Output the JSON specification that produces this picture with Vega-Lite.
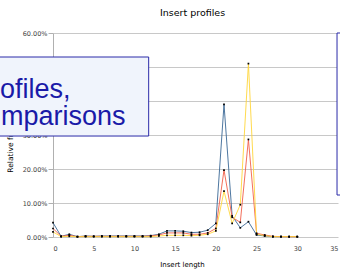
{
 "$schema": "https://vega.github.io/schema/vega-lite/v6.json",
 "width": 285,
 "height": 204,
 "autosize": {"type": "none"},
 "padding": {"left": 53, "top": 33, "right": 2, "bottom": 36},
 "config": {"font": "DejaVu Sans", "view": {"stroke": null}},
 "title": {"text": "Insert profiles", "fontSize": 9.5, "fontWeight": "normal", "color": "#000", "offset": 13, "font": "DejaVu Sans", "dx": -3},
 "resolve": {"axis": {"x": "independent", "y": "independent"}},
 "layer": [
  {
   "data": {"values": [
    {"x": 0, "A": 0.042, "B": 0.025, "C": 0.015},
    {"x": 1, "A": 0.002, "B": 0.002, "C": 0.001},
    {"x": 2, "A": 0.008, "B": 0.005, "C": 0.002},
    {"x": 3, "A": 0.001, "B": 0.001, "C": 0.001},
    {"x": 4, "A": 0.003, "B": 0.002, "C": 0.001},
    {"x": 5, "A": 0.002, "B": 0.002, "C": 0.001},
    {"x": 6, "A": 0.003, "B": 0.002, "C": 0.001},
    {"x": 7, "A": 0.003, "B": 0.002, "C": 0.001},
    {"x": 8, "A": 0.003, "B": 0.002, "C": 0.001},
    {"x": 9, "A": 0.003, "B": 0.002, "C": 0.001},
    {"x": 10, "A": 0.003, "B": 0.002, "C": 0.001},
    {"x": 11, "A": 0.003, "B": 0.002, "C": 0.001},
    {"x": 12, "A": 0.004, "B": 0.003, "C": 0.001},
    {"x": 13, "A": 0.008, "B": 0.006, "C": 0.003},
    {"x": 14, "A": 0.018, "B": 0.012, "C": 0.005},
    {"x": 15, "A": 0.018, "B": 0.012, "C": 0.005},
    {"x": 16, "A": 0.017, "B": 0.012, "C": 0.005},
    {"x": 17, "A": 0.013, "B": 0.008, "C": 0.004},
    {"x": 18, "A": 0.014, "B": 0.008, "C": 0.005},
    {"x": 19, "A": 0.02, "B": 0.012, "C": 0.008},
    {"x": 20, "A": 0.04, "B": 0.025, "C": 0.018},
    {"x": 21, "A": 0.39, "B": 0.197, "C": 0.135},
    {"x": 22, "A": 0.062, "B": 0.058, "C": 0.04},
    {"x": 23, "A": 0.027, "B": 0.043, "C": 0.095},
    {"x": 24, "A": 0.045, "B": 0.287, "C": 0.51},
    {"x": 25, "A": 0.006, "B": 0.011, "C": 0.008},
    {"x": 26, "A": 0.003, "B": 0.006, "C": 0.004},
    {"x": 27, "A": 0.001, "B": 0.002, "C": 0.001},
    {"x": 28, "A": 0.001, "B": 0.001, "C": 0.001},
    {"x": 29, "A": 0.001, "B": 0.001, "C": 0.001},
    {"x": 30, "A": 0.001, "B": 0.001, "C": 0.001}
   ]},
   "transform": [{"fold": ["A", "B", "C"], "as": ["series", "value"]}],
   "encoding": {
    "x": {"field": "x", "type": "quantitative", "scale": {"domain": [0, 35], "nice": false, "zero": false},
     "axis": {"values": [0, 5, 10, 15, 20, 25, 30, 35], "grid": false, "ticks": false, "domain": false, "labelFontSize": 6.5, "labelFont": "DejaVu Sans", "labelColor": "#444", "labelPadding": 8, "title": "Insert length", "titleFont": "DejaVu Sans", "titleFontSize": 7, "titleFontWeight": "normal", "titleColor": "#000", "titlePadding": 9, "titleX": 129}},
    "y": {"field": "value", "type": "quantitative", "scale": {"domain": [0, 0.6], "nice": false},
     "axis": {"format": ".2%", "values": [0, 0.1, 0.2, 0.3, 0.4, 0.5, 0.6], "title": "Relative frequency", "titleFont": "DejaVu Sans", "titleFontSize": 7.5, "titleFontWeight": "normal", "titleColor": "#000", "titlePadding": 8, "titleY": 104, "labelFont": "DejaVu Sans", "labelFontSize": 6.5, "labelColor": "#444", "labelPadding": 1, "gridColor": "#c8c8c8", "domainColor": "#b0b0b0", "tickColor": "#b0b0b0", "tickSize": 5}}
   },
   "layer": [
    {"mark": {"type": "line", "strokeWidth": 0.9},
     "encoding": {"color": {"field": "series", "type": "nominal", "scale": {"domain": ["A", "B", "C"], "range": ["#3a6895", "#f2604a", "#ffd63a"]}, "legend": null}}},
    {"mark": {"type": "square", "size": 3, "color": "#000", "opacity": 1, "filled": true}, "encoding": {}}
   ]
  },
  {
   "data": {"values": [{"x1": -7, "x2": 11.75, "y1": 0.5294, "y2": 0.297}]},
   "mark": {"type": "rect", "fill": "#f0f4fc", "stroke": "#2a2aa8", "strokeWidth": 1},
   "encoding": {
    "x": {"field": "x1", "type": "quantitative", "scale": {"domain": [0, 35]}, "axis": null},
    "x2": {"field": "x2"},
    "y": {"field": "y1", "type": "quantitative", "scale": {"domain": [0, 0.6]}, "axis": null},
    "y2": {"field": "y2"}
   }
  },
  {
   "data": {"values": [{"x1": 34.88, "x2": 40, "y1": 0.6, "y2": 0.1235}]},
   "mark": {"type": "rect", "fill": "#ffffff", "stroke": "#2a2aa8", "strokeWidth": 1},
   "encoding": {
    "x": {"field": "x1", "type": "quantitative", "scale": {"domain": [0, 35]}, "axis": null},
    "x2": {"field": "x2"},
    "y": {"field": "y1", "type": "quantitative", "scale": {"domain": [0, 0.6]}, "axis": null},
    "y2": {"field": "y2"}
   }
  },
  {
   "data": {"values": [{"x": -6.51, "y": 0.409, "t": "ofiles,"}, {"x": -6.39, "y": 0.3294, "t": "mparisons"}]},
   "mark": {"type": "text", "align": "left", "baseline": "alphabetic", "fontSize": 27, "color": "#1a1aa8", "font": "Liberation Sans"},
   "encoding": {
    "x": {"field": "x", "type": "quantitative", "scale": {"domain": [0, 35]}, "axis": null},
    "y": {"field": "y", "type": "quantitative", "scale": {"domain": [0, 0.6]}, "axis": null},
    "text": {"field": "t"}
   }
  }
 ]
}
